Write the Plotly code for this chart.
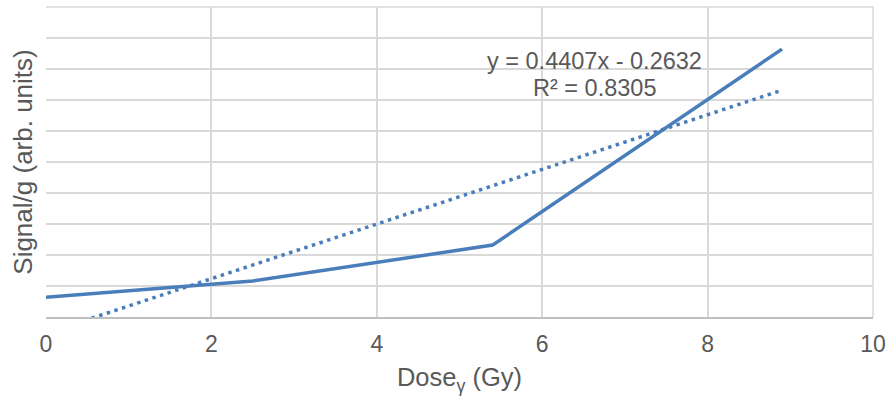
import plotly.graph_objects as go

# Data
dose = [0, 2.5, 5.4, 8.9]
signal = [0.32, 0.58, 1.16, 4.32]

# Linear trendline (Excel) coefficients shown on the chart
slope = 0.4407
intercept = -0.2632
r2 = 0.8305
trend_x = [dose[0], dose[-1]]
trend_y = [slope * x + intercept for x in trend_x]

x_ticks = [0, 2, 4, 6, 8, 10]

blue = "#4A7EBB"
grey_text = "#595959"
font_family = "Liberation Sans, Arial, sans-serif"

fig = go.Figure()
fig.add_trace(go.Scatter(x=dose, y=signal, mode="lines",
                         line=dict(color=blue, width=3.5), showlegend=False))
fig.add_trace(go.Scatter(x=trend_x, y=trend_y, mode="lines",
                         line=dict(color=blue, width=3.5, dash="3.5px,4.5px"), showlegend=False))

fig.add_annotation(x=6.63, y=4.13, xref="x", yref="y",
                   text=f"y = {slope}x - {abs(intercept)}", showarrow=False,
                   font=dict(size=23.5, color=grey_text, family=font_family))
fig.add_annotation(x=6.63, y=3.69, xref="x", yref="y",
                   text=f"R² = {r2}", showarrow=False,
                   font=dict(size=23.5, color=grey_text, family=font_family))

fig.update_layout(
    width=894, height=404,
    margin=dict(l=46, r=21, t=7, b=87),
    plot_bgcolor="white", paper_bgcolor="white",
    font=dict(family=font_family, color=grey_text),
    xaxis=dict(range=[0, 10], tickvals=x_ticks, showgrid=True, gridcolor="#D9D9D9",
               gridwidth=1.5, zeroline=False, showline=True, linecolor="#BFBFBF",
               linewidth=1.5, ticks="outside", ticklen=6, tickcolor="rgba(0,0,0,0)",
               tickfont=dict(size=23, color=grey_text),
               title=dict(text="Dose<sub>γ</sub> (Gy)", font=dict(size=25.5, color=grey_text),
                          standoff=12)),
    yaxis=dict(range=[0, 5], dtick=0.5, showgrid=True, gridcolor="#D9D9D9", gridwidth=1.5,
               zeroline=False, showticklabels=False, ticks="", showline=False,
               title=dict(text="Signal/g (arb. units)", font=dict(size=26, color=grey_text),
                          standoff=4)),
)
fig.add_shape(type="line", xref="paper", yref="paper", x0=1, x1=1, y0=0, y1=1,
              line=dict(color="#D9D9D9", width=1.5), layer="below")
fig.add_shape(type="line", xref="paper", yref="paper", x0=0, x1=1, y0=1, y1=1,
              line=dict(color="#D9D9D9", width=1.5), layer="below")

fig.write_html("out.html")
